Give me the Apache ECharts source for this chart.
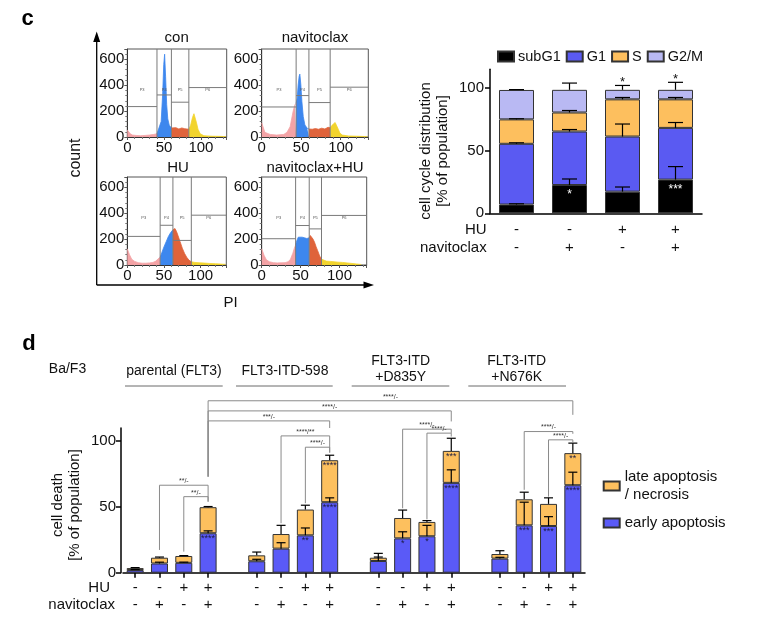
<!DOCTYPE html>
<html>
<head>
<meta charset="utf-8">
<script src="https://cdn.jsdelivr.net/npm/echarts@6/dist/echarts.min.js"></script>
<style>
  html, body { margin: 0; padding: 0; background: #fff; }
  #main { width: 758px; height: 627px; }
</style>
</head>
<body>
<div id="main"></div>
<script>
// ---------- panel c: PI histograms ----------
const histTitles = ['con', 'navitoclax', 'HU', 'navitoclax+HU'];

const conPI    = [0, 2, 4, 7, 12, 18, 24, 30, 36, 40.3, 43, 46, 48, 49.5, 50.7, 52, 53.5, 55, 57, 59.9, 62, 66, 70, 74, 78, 80, 83.6, 86, 88.5, 90.5, 92, 94, 96, 99, 104, 115, 125, 134];
const conCount = [55, 45, 25, 15, 12, 10, 12, 15, 20, 25, 40, 120, 330, 560, 640, 470, 250, 140, 90, 70, 60, 72, 62, 70, 64, 78, 60, 90, 150, 180, 170, 110, 60, 25, 10, 6, 5, 3];
const conGates = [40.3, 59.9, 83.6];
const conGateH = [235, 325, 269, 382];

const navPI    = [0, 1, 4, 10.7, 19, 28, 32, 36, 39.7, 41.9, 43.6, 44.9, 46.2, 47.4, 48.3, 49.6, 50.9, 52.6, 54.7, 57.7, 59.8, 64, 68, 72, 76, 80, 84, 86.7, 89, 91.5, 93, 95, 97, 99, 102, 110, 125, 134];
const navCount = [110, 98, 36, 20, 15, 20, 36, 80, 196, 248, 260, 300, 403, 468, 486, 403, 274, 158, 93, 67, 62, 60, 65, 60, 68, 62, 75, 72, 90, 105, 112, 100, 60, 30, 15, 8, 5, 3];
const navGates = [43.6, 59.8, 86.7];
const navGateH = [232, 320, 266, 385];

const huPI     = [0, 1.5, 3, 6, 10, 15, 20, 25, 30, 35, 39, 42, 44.8, 47, 50, 53, 56, 59, 61, 62.2, 63.5, 65, 67, 69, 72, 75, 78, 81, 84, 87.3, 92, 98, 105, 112, 120, 128, 134];
const huCount  = [125, 115, 80, 45, 28, 18, 14, 14, 16, 20, 30, 48, 60, 95, 140, 180, 220, 250, 262, 272, 285, 282, 260, 230, 180, 130, 90, 60, 38, 25, 20, 17, 15, 12, 10, 7, 5];
const huGates  = [44.8, 62.2, 87.3];
const huGateH  = [221, 307, 190, 385];

const comboPI    = [0, 1, 3, 6, 10, 15, 20, 25, 30, 34, 37, 40, 42, 43.6, 45, 47, 49, 52, 55, 58, 61.1, 62.5, 64, 66, 68, 70, 72, 74.5, 76.9, 79, 83, 88, 93, 98, 104, 110, 116, 122, 128];
const comboCount = [125, 115, 75, 40, 25, 18, 16, 17, 18, 25, 45, 90, 130, 155, 185, 215, 222, 215, 210, 205, 210, 228, 220, 200, 175, 140, 110, 70, 45, 35, 30, 28, 25, 22, 20, 16, 12, 8, 4];
const comboGates = [43.6, 61.1, 76.9];
const comboGateH = [203, 305, 279, 383];

const histXMax = 135, histYMax = 680, gateLabelY = 365;

// ---------- panel c: cell cycle distribution ----------
const huC  = ['-', '-', '+', '+'];
const navC = ['-', '+', '-', '+'];
const subG1 = [7, 22.6, 17.3, 26.9];
const G1    = [48.5, 42.7, 44, 41.3];
const S     = [19.5, 15.2, 29.7, 22.8];
const G2M   = [23.5, 18.1, 7.6, 7.6];
const subG1Err = [0.6, 4.8, 3.7, 10.4];
const G1Err    = [0.8, 1.6, 10, 4.3];
const SErr     = [0.5, 1.6, 1.5, 1.5];
const G2MErr   = [0.3, 5.4, 3.5, 6];
const sigSubG1 = ['', '*', '', '***'];
const sigTopC  = ['', '', '*', '*'];

// ---------- panel d: cell death ----------
const dGroups = ['parental (FLT3)', 'FLT3-ITD-598', 'FLT3-ITD\n+D835Y', 'FLT3-ITD\n+N676K'];
const huD  = ['-', '-', '+', '+'];
const navD = ['-', '+', '-', '+'];
const earlyApop = [2, 7, 7.5, 30,   8.7, 18.3, 28.4, 53.6,   8.9, 26.1, 27.7, 68.3,   10.7, 36, 35.5, 66.5];
const lateApop  = [1.5, 4.4, 5.2, 19.8,   4.5, 11.1, 19.6, 31.9,   2.5, 15.5, 10.9, 24.3,   3.5, 19.8, 16.8, 24.4];
const earlyErr  = [0.4, 1, 0.5, 1.8,   1.5, 4.5, 5.6, 3.3,   3, 5, 8.3, 9.9,   1, 17.6, 7.1, 9.9];
const lateErr   = [0.4, 0.5, 0.3, 0.5,   2.5, 6.6, 3.3, 3.8,   3.3, 6, 1, 9.6,   2.5, 5.4, 4.6, 7.6];
const sigEarly  = ['', '', '', '****',   '', '', '**', '****',   '', '*', '*', '****',   '', '***', '***', '****'];
const sigLate   = ['', '', '', '',   '', '', '', '****',   '', '', '', '***',   '', '', '', '**'];

// comparison brackets (bar indices 0..15)
const bracketFrom    = [1, 2, 3, 3, 3, 5, 6, 9, 10, 13, 14];
const bracketTo      = [3, 3, 7, 11, 15, 7, 7, 11, 11, 15, 15];
const bracketLevel   = [66.5, 57.8, 115.4, 123, 130.7, 104, 95.4, 109.1, 106.1, 107.3, 101];
const bracketFromEnd = [17.3, 16, 73, 73, 73, 37.6, 52.8, 49, 40.6, 63, 57.8];
const bracketToEnd   = [54, 54, 110, 115, 120, 91.3, 91.3, 106.3, 103.5, 105.6, 99];
const bracketText    = ['**/-', '**/-', '***/-', '****/-', '****/-', '****/**', '****/-', '****/-', '****/-', '****/-', '****/-'];

// ---------- styling ----------
const FONT = 'Liberation Sans';
const INK = '#111';
const histColors = ['#f4a3a6', '#3d87ee', '#df633b', '#f2d42e'];
const cycleColors = ['#000000', '#5a5af2', '#fdbf5e', '#b9b9f3'];
const deathColors = ['#5a5af7', '#fdc05e'];

const histBoxes = [[127.3, 49, 99.4, 88], [261.7, 49, 106.6, 88], [127.3, 177, 99, 88], [261.7, 177, 105, 88]];
const histData = [
  [conPI, conCount, conGates, conGateH],
  [navPI, navCount, navGates, navGateH],
  [huPI, huCount, huGates, huGateH],
  [comboPI, comboCount, comboGates, comboGateH]
];

// slot layout for panel d (one empty slot between groups)
const slotBar = [];
dGroups.forEach((g, gi) => {
  for (let t = 0; t < 4; t++) slotBar.push(gi * 4 + t);
  if (gi < dGroups.length - 1) slotBar.push(-1);
});
const barSlot = [];
slotBar.forEach((b, i) => { if (b >= 0) barSlot[b] = i; });
const slotNames = slotBar.map((b, i) => b < 0 ? 'gap' + i : 'bar' + b);
const bySlot = arr => slotBar.map(b => b < 0 ? null : arr[b]);

function errorBar(capW) {
  return function (params, api) {
    const p0 = api.coord([api.value(0), api.value(1)]);
    const p1 = api.coord([api.value(0), api.value(2)]);
    const st = { stroke: '#000', lineWidth: 1.2 };
    return {
      type: 'group',
      children: [
        { type: 'line', shape: { x1: p0[0], y1: p0[1], x2: p1[0], y2: p1[1] }, style: st },
        { type: 'line', shape: { x1: p1[0] - capW / 2, y1: p1[1], x2: p1[0] + capW / 2, y2: p1[1] }, style: st }
      ]
    };
  };
}

const grids = [];
const xAxes = [];
const yAxes = [];
const series = [];

// histograms
histBoxes.forEach((b, k) => {
  grids.push({ left: b[0], top: b[1], width: b[2], height: b[3], show: true, borderColor: '#555', borderWidth: 1, backgroundColor: 'transparent' });
  xAxes.push({
    type: 'value', gridIndex: k, min: 0, max: histXMax, interval: 50,
    axisLine: { lineStyle: { color: '#333', width: 1 } },
    axisTick: { show: true, length: 3, lineStyle: { color: '#555' } },
    minorTick: { show: true, splitNumber: 5, length: 2, lineStyle: { color: '#777' } },
    splitLine: { show: false },
    axisLabel: { fontSize: 15, color: INK, margin: 3, fontFamily: FONT, showMaxLabel: false }
  });
  yAxes.push({
    type: 'value', gridIndex: k, min: 0, max: histYMax, interval: 200,
    axisLine: { show: true, lineStyle: { color: '#333', width: 1 } },
    axisTick: { show: true, length: 3, lineStyle: { color: '#555' } },
    minorTick: { show: true, splitNumber: 5, length: 2, lineStyle: { color: '#777' } },
    splitLine: { show: false },
    axisLabel: { fontSize: 15, color: INK, margin: 3, fontFamily: FONT, showMaxLabel: false }
  });
  const [xs, ys, gates, gateH] = histData[k];
  const bounds = [-Infinity].concat(gates, [Infinity]);
  histColors.forEach((c, j) => {
    series.push({
      type: 'line', xAxisIndex: k, yAxisIndex: k, showSymbol: false, silent: true,
      lineStyle: { color: c, width: 0.8 }, areaStyle: { color: c, opacity: 1 },
      data: xs.map((x, i) => [x, ys[i]]).filter(p => p[0] >= bounds[j] && p[0] <= bounds[j + 1])
    });
  });
  const edges = [0].concat(gates, [histXMax]);
  series.push({
    type: 'custom', xAxisIndex: k, yAxisIndex: k, silent: true, z: 5,
    encode: { x: 0, y: 2 },
    data: gateH.map((h, i) => [edges[i], edges[i + 1], h]),
    renderItem: function (params, api) {
      const x0 = api.value(0), x1 = api.value(1), h = api.value(2);
      const a = api.coord([x0, h]), b = api.coord([x1, h]);
      const top = api.coord([x1, histYMax])[1], bot = api.coord([x1, 0])[1];
      const lp = api.coord([(x0 + x1) / 2, gateLabelY]);
      const st = { stroke: '#7a7a7a', lineWidth: 1 };
      const ch = [
        { type: 'line', shape: { x1: a[0], y1: a[1], x2: b[0], y2: b[1] }, style: st },
        { type: 'text', x: lp[0], y: lp[1], style: { text: 'P' + (3 + params.dataIndex), font: '4px ' + FONT, fill: '#555', align: 'center', verticalAlign: 'middle' } }
      ];
      if (x1 < histXMax) ch.push({ type: 'line', shape: { x1: b[0], y1: top, x2: b[0], y2: bot }, style: st });
      return { type: 'group', children: ch };
    }
  });
});

// panel c bar chart
grids.push({ left: 490, top: 69.3, width: 212, height: 144 });
xAxes.push({
  type: 'category', gridIndex: 4, data: histTitles,
  axisLine: { lineStyle: { color: '#000', width: 1.5 } },
  axisTick: { show: false },
  axisLabel: { interval: 0, fontSize: 15, lineHeight: 18, color: INK, margin: 8, fontFamily: FONT,
    formatter: (v, i) => huC[i] + '\n' + navC[i] }
});
yAxes.push({
  type: 'value', gridIndex: 4, min: 0, max: 115, interval: 50,
  axisLine: { show: true, lineStyle: { color: '#000', width: 1.5 } },
  axisTick: { show: true, length: 5, lineStyle: { color: '#000', width: 1.5 } },
  splitLine: { show: false },
  axisLabel: { fontSize: 15, color: INK, margin: 6, fontFamily: FONT, showMaxLabel: false }
});
const cycleSeries = [['subG1', subG1, subG1Err], ['G1', G1, G1Err], ['S', S, SErr], ['G2/M', G2M, G2MErr]];
const cum = [0, 0, 0, 0];
const cErrData = [];
cycleSeries.forEach(([name, vals, errs], j) => {
  series.push({
    name: name, type: 'bar', stack: 'cycle', xAxisIndex: 4, yAxisIndex: 4, barWidth: 35,
    itemStyle: { color: cycleColors[j], borderColor: '#333', borderWidth: 1 },
    label: j === 0 ? { show: true, position: 'insideTop', distance: 4, color: '#fff', fontSize: 12, fontFamily: FONT,
      formatter: p => sigSubG1[p.dataIndex] } : { show: false },
    data: vals
  });
  vals.forEach((v, i) => { cum[i] += v; cErrData.push([i, cum[i], cum[i] + errs[i]]); });
});
series.push({ type: 'custom', xAxisIndex: 4, yAxisIndex: 4, z: 4, silent: true, encode: { x: 0, y: 1 },
  data: cErrData, renderItem: errorBar(15) });
series.push({ type: 'custom', xAxisIndex: 4, yAxisIndex: 4, z: 4, silent: true, encode: { x: 0, y: 1 },
  data: cum.map((t, i) => [i, t + G2MErr[i]]),
  renderItem: function (params, api) {
    const p = api.coord([api.value(0), api.value(1)]);
    return { type: 'text', x: p[0], y: p[1] - 3, style: { text: sigTopC[params.dataIndex], font: '13px ' + FONT, fill: INK, align: 'center', verticalAlign: 'middle' } };
  }
});

// panel d bar chart
grids.push({ left: 123, top: 428, width: 462, height: 144.7 });
xAxes.push({
  type: 'category', gridIndex: 5, data: slotNames,
  axisLine: { lineStyle: { color: '#000', width: 1.5 } },
  axisTick: { show: true, alignWithLabel: true, length: 5, interval: (i) => slotBar[i] >= 0, lineStyle: { color: '#000', width: 1.5 } },
  axisLabel: { interval: 0, fontSize: 15, lineHeight: 17, color: INK, margin: 7, fontFamily: FONT,
    formatter: (v, i) => slotBar[i] < 0 ? '' : huD[slotBar[i] % 4] + '\n' + navD[slotBar[i] % 4] }
});
yAxes.push({
  type: 'value', gridIndex: 5, min: 0, max: 110, interval: 50, offset: 2,
  axisLine: { show: true, lineStyle: { color: '#000', width: 1.5 } },
  axisTick: { show: true, length: 5, lineStyle: { color: '#000', width: 1.5 } },
  splitLine: { show: false },
  axisLabel: { fontSize: 15, color: INK, margin: 5, fontFamily: FONT, showMaxLabel: false }
});
const LATE = 'late apoptosis / necrosis', EARLY = 'early apoptosis';
series.push({
  name: EARLY, type: 'bar', stack: 'death', xAxisIndex: 5, yAxisIndex: 5, barWidth: 17,
  itemStyle: { color: deathColors[0], borderColor: '#333', borderWidth: 1 },
  label: { show: true, position: 'insideTop', distance: 1, color: '#1b1b40', fontSize: 9, fontFamily: FONT,
    formatter: p => slotBar[p.dataIndex] >= 0 ? sigEarly[slotBar[p.dataIndex]] : '' },
  data: bySlot(earlyApop)
});
series.push({
  name: LATE, type: 'bar', stack: 'death', xAxisIndex: 5, yAxisIndex: 5, barWidth: 17,
  itemStyle: { color: deathColors[1], borderColor: '#333', borderWidth: 1 },
  label: { show: true, position: 'insideTop', distance: 1, color: '#1b1b40', fontSize: 9, fontFamily: FONT,
    formatter: p => slotBar[p.dataIndex] >= 0 ? sigLate[slotBar[p.dataIndex]] : '' },
  data: bySlot(lateApop)
});
const dErrData = [];
earlyApop.forEach((v, k) => {
  dErrData.push([barSlot[k], v, v + earlyErr[k]]);
  const tot = v + lateApop[k];
  dErrData.push([barSlot[k], tot, tot + lateErr[k]]);
});
series.push({ type: 'custom', xAxisIndex: 5, yAxisIndex: 5, z: 4, silent: true, encode: { x: 0, y: 1 },
  data: dErrData, renderItem: errorBar(9) });
series.push({
  type: 'custom', xAxisIndex: 5, yAxisIndex: 5, z: 4, silent: true, encode: { x: 0, y: 2 },
  data: bracketFrom.map((f, i) => [barSlot[f], barSlot[bracketTo[i]], bracketLevel[i], bracketFromEnd[i], bracketToEnd[i]]),
  renderItem: function (params, api) {
    const a = api.coord([api.value(0), api.value(2)]);
    const b = api.coord([api.value(1), api.value(2)]);
    const aEnd = api.coord([api.value(0), api.value(3)])[1];
    const bEnd = api.coord([api.value(1), api.value(4)])[1];
    return {
      type: 'group',
      children: [
        { type: 'polyline', shape: { points: [[a[0], aEnd], [a[0], a[1]], [b[0], b[1]], [b[0], bEnd]] }, style: { stroke: '#8a8a8a', lineWidth: 1, fill: null } },
        { type: 'text', x: (a[0] + b[0]) / 2, y: a[1] - 4, style: { text: bracketText[params.dataIndex], font: '7px ' + FONT, fill: '#333', align: 'center', verticalAlign: 'middle' } }
      ]
    };
  }
});

// decorations
function txt(x, y, s, size, extra) {
  return Object.assign({ type: 'text', x: x, y: y, silent: true,
    style: Object.assign({ text: s, font: size + 'px ' + FONT, fill: INK, align: 'center', verticalAlign: 'middle' }, extra || {}) });
}
function rtxt(x, y, s, size, lh) {
  return { type: 'text', x: x, y: y, rotation: Math.PI / 2, silent: true,
    style: { text: s, font: size + 'px ' + FONT, fill: INK, align: 'center', verticalAlign: 'middle', lineHeight: lh } };
}
function hline(x1, x2, y, color, w) {
  return { type: 'line', silent: true, shape: { x1: x1, y1: y, x2: x2, y2: y }, style: { stroke: color, lineWidth: w } };
}

const graphic = [
  txt(27.5, 18.5, 'c', 22, { font: 'bold 22px ' + FONT, fill: '#000' }),
  txt(29, 344, 'd', 22, { font: 'bold 22px ' + FONT, fill: '#000' }),
  // big count / PI axes
  { type: 'line', silent: true, shape: { x1: 96.7, y1: 285, x2: 96.7, y2: 40 }, style: { stroke: '#000', lineWidth: 1.3 } },
  { type: 'polygon', silent: true, shape: { points: [[96.7, 31.5], [93.2, 42], [100.2, 42]] }, style: { fill: '#000' } },
  { type: 'line', silent: true, shape: { x1: 96.7, y1: 285, x2: 365, y2: 285 }, style: { stroke: '#000', lineWidth: 1.3 } },
  { type: 'polygon', silent: true, shape: { points: [[374, 285], [363.5, 281.5], [363.5, 288.5]] }, style: { fill: '#000' } },
  rtxt(76, 158, 'count', 16, 18),
  txt(230.5, 303, 'PI', 15),
  txt(176.7, 38, histTitles[0], 15),
  txt(315, 38, histTitles[1], 15),
  txt(178, 168, histTitles[2], 15),
  txt(315, 168, histTitles[3], 15),
  // panel c bar chart labels
  rtxt(434.5, 151, 'cell cycle distribution\n[% of population]', 15, 17),
  txt(486.7, 230, 'HU', 15, { align: 'right' }),
  txt(486.7, 248, 'navitoclax', 15, { align: 'right' }),
  // panel d labels
  rtxt(66.5, 505, 'cell death\n[% of population]', 15, 17),
  txt(110, 588.3, 'HU', 15, { align: 'right' }),
  txt(115, 605, 'navitoclax', 15, { align: 'right' }),
  txt(67.5, 369.3, 'Ba/F3', 14),
  txt(174, 370.7, dGroups[0], 14),
  txt(285, 370.7, dGroups[1], 14),
  txt(400.7, 369, dGroups[2], 14, { lineHeight: 16.6 }),
  txt(516.7, 369, dGroups[3], 14, { lineHeight: 16.6 }),
  hline(125, 222.7, 386, '#6a6a6a', 1),
  hline(236, 332.7, 386, '#6a6a6a', 1),
  hline(351.7, 449.3, 386, '#6a6a6a', 1),
  hline(468.3, 566, 386, '#6a6a6a', 1)
];

const option = {
  animation: false,
  backgroundColor: '#fff',
  textStyle: { fontFamily: FONT },
  grid: grids,
  xAxis: xAxes,
  yAxis: yAxes,
  legend: [
    {
      data: ['subG1', 'G1', 'S', 'G2/M'], left: 497, top: 49, padding: 0,
      itemWidth: 16, itemHeight: 10, itemGap: 5, selectedMode: false, icon: 'rect',
      textStyle: { fontSize: 14.5, color: INK, fontFamily: FONT, padding: [0, 0, 0, -1] }
    },
    {
      data: [{ name: LATE, textStyle: { padding: [18, 0, 0, 0] } }, EARLY],
      orient: 'vertical', left: 602.7, top: 459, padding: 0,
      itemWidth: 16, itemHeight: 9, itemGap: 1, selectedMode: false, icon: 'rect',
      formatter: n => n.replace(' / ', '\n/ '),
      textStyle: { fontSize: 15, lineHeight: 18, color: INK, fontFamily: FONT }
    }
  ],
  graphic: graphic,
  series: series
};

const chart = echarts.init(document.getElementById('main'), null, { renderer: 'canvas' });
chart.setOption(option);
</script>
</body>
</html>
